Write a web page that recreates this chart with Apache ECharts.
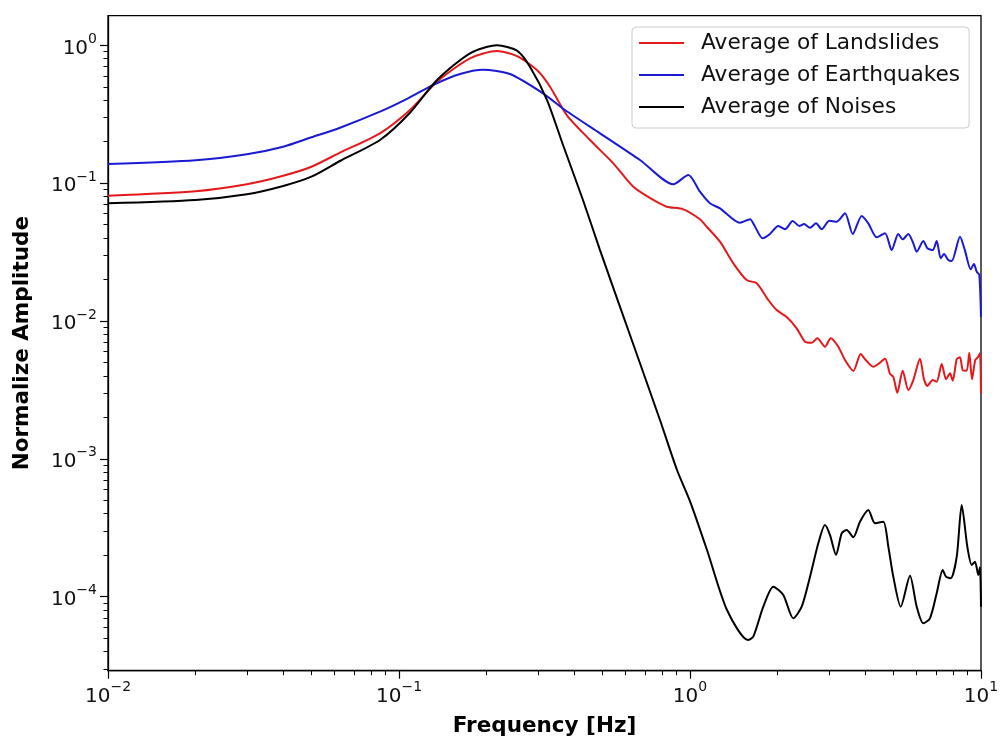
<!DOCTYPE html>
<html>
<head>
<meta charset="utf-8">
<script src="https://cdn.jsdelivr.net/npm/echarts@6/dist/echarts.min.js"></script>
<style>
  html, body { margin: 0; padding: 0; background: #ffffff; }
  #chart { width: 1002px; height: 736px; }
</style>
</head>
<body>
<div id="chart"></div>
<script>
// Average normalized spectra (frequency in Hz, amplitude normalized)
const freqLandslides = [0.01, 0.02, 0.03, 0.04, 0.05, 0.0627, 0.086, 0.1091, 0.1351, 0.1754,
  0.2172, 0.2543, 0.2979, 0.3304, 0.3770, 0.4533, 0.5451, 0.6386, 0.748, 0.8317,
  0.9484, 1.082, 1.141, 1.268, 1.409, 1.566, 1.695, 1.858, 1.986, 2.149,
  2.326, 2.485, 2.620, 2.739, 2.910, 3.045, 3.233, 3.409, 3.641, 3.860,
  3.994, 4.265, 4.437, 4.679, 4.868, 4.996, 5.157, 5.381, 5.626, 5.853,
  6.170, 6.369, 6.539, 6.823, 7.043, 7.328, 7.583, 7.827, 7.995, 8.253,
  8.469, 8.652, 8.931, 9.116, 9.314, 9.559, 9.788, 9.92, 10];
const ampLandslides = [0.0811, 0.0873, 0.0981, 0.1132, 0.1316, 0.1664, 0.2299, 0.3394, 0.5445, 0.805,
  0.909, 0.836, 0.662, 0.5008, 0.312, 0.2056, 0.1393, 0.0942, 0.0755, 0.0675,
  0.0646, 0.0547, 0.0483, 0.0376, 0.0262, 0.0198, 0.0188, 0.0142, 0.0120, 0.0107,
  0.00885, 0.00708, 0.00696, 0.00749, 0.00651, 0.00749, 0.00651, 0.00521, 0.00434, 0.00576,
  0.00528, 0.00466, 0.00488, 0.00533, 0.00413, 0.00394, 0.00302, 0.00436, 0.00316, 0.00373,
  0.00533, 0.00378, 0.00338, 0.00373, 0.00363, 0.00488, 0.00378, 0.00417, 0.00369, 0.00528,
  0.00545, 0.00441, 0.00436, 0.00589, 0.00378, 0.00521, 0.00551, 0.00583, 0.00299];

const freqEarthquakes = [0.01, 0.02, 0.03, 0.04, 0.05, 0.0627, 0.086, 0.1074, 0.1308, 0.1621,
  0.1944, 0.2406, 0.3125, 0.3719, 0.4906, 0.6733, 0.8762, 0.9868, 1.082, 1.171,
  1.268, 1.485, 1.608, 1.673, 1.777, 1.883, 2.011, 2.121, 2.254, 2.375,
  2.465, 2.585, 2.710, 2.836, 3.011, 3.193, 3.409, 3.624, 3.890, 4.100,
  4.381, 4.679, 4.933, 5.197, 5.381, 5.626, 5.853, 6.012, 6.335, 6.539,
  6.823, 7.043, 7.270, 7.463, 7.720, 7.931, 8.469, 8.810, 9.218, 9.461,
  9.665, 9.865, 10];
const ampEarthquakes = [0.1377, 0.1465, 0.1620, 0.1838, 0.2151, 0.2525, 0.330, 0.4125, 0.515, 0.619,
  0.665, 0.619, 0.4485, 0.3394, 0.2299, 0.1472, 0.0981, 0.1146, 0.0867, 0.0714,
  0.0657, 0.0516, 0.0547, 0.0483, 0.0398, 0.0428, 0.0489, 0.0463, 0.0531, 0.0489,
  0.0505, 0.0475, 0.0511, 0.0463, 0.0534, 0.0525, 0.0604, 0.0428, 0.0578, 0.0511,
  0.0405, 0.0433, 0.0327, 0.0428, 0.0391, 0.0428, 0.0366, 0.0318, 0.0380, 0.0337,
  0.0327, 0.0380, 0.0285, 0.0306, 0.0277, 0.0272, 0.0409, 0.0324, 0.0237, 0.0259,
  0.0228, 0.0216, 0.0107];

const freqNoises = [0.01, 0.02, 0.03, 0.04, 0.05, 0.0627, 0.086, 0.1091, 0.1351, 0.1754,
  0.2172, 0.2543, 0.2818, 0.3226, 0.3662, 0.4287, 0.4906, 0.622, 0.7886, 0.9023,
  1.0055, 1.144, 1.340, 1.582, 1.650, 1.786, 1.933, 2.092, 2.265, 2.420,
  2.585, 2.760, 2.910, 3.028, 3.176, 3.321, 3.455, 3.641, 3.838, 4.100,
  4.322, 4.617, 4.803, 4.996, 5.298, 5.702, 6.012, 6.335, 6.678, 7.043,
  7.386, 7.583, 7.870, 8.253, 8.584, 8.974, 9.291, 9.537, 9.788, 9.92,
  10];
const ampNoises = [0.0714, 0.0755, 0.0830, 0.0954, 0.1114, 0.1448, 0.2056, 0.3244, 0.560, 0.875,
  1.0, 0.914, 0.6995, 0.401, 0.1891, 0.0755, 0.0327, 0.00791, 0.001913, 0.00083,
  0.000478, 0.000218, 8.0e-5, 4.85e-5, 5.13e-5, 8.46e-5, 1.182e-4, 1.029e-4, 6.97e-5, 8.46e-5,
  1.397e-4, 2.44e-4, 3.31e-4, 2.80e-4, 2.01e-4, 2.88e-4, 3.05e-4, 2.70e-4, 3.50e-4, 4.25e-4,
  3.41e-4, 3.50e-4, 2.31e-4, 1.397e-4, 8.46e-5, 1.42e-4, 8.46e-5, 6.41e-5, 6.97e-5, 1.058e-4,
  1.562e-4, 1.397e-4, 1.36e-4, 1.951e-4, 4.63e-4, 2.31e-4, 1.70e-4, 1.795e-4, 1.437e-4, 1.634e-4,
  8.46e-5];

const seriesNames = ['Average of Landslides', 'Average of Earthquakes', 'Average of Noises'];
const seriesColors = ['#e3191c', '#1a1ad2', '#000000'];

// Axis ranges and decade ticks
const xRange = [0.01, 10];
const yRange = [2.904e-5, 1.64];
const xMajorTicks = [0.01, 0.1, 1, 10];
const yMajorTicks = [1e-4, 1e-3, 1e-2, 1e-1, 1];

function minorTicks(eLo, eHi) {
  const out = [];
  for (let e = eLo; e < eHi; e++) {
    for (let m = 2; m <= 9; m++) out.push(m * Math.pow(10, e));
  }
  return out;
}
const xMinorTicks = minorTicks(-2, 1);
const yMinorTicks = minorTicks(-5, 1);

function pairs(xs, ys) {
  const n = Math.min(xs.length, ys.length);
  const out = [];
  for (let i = 0; i < n; i++) out.push([xs[i], ys[i]]);
  return out;
}

const FONT = 'DejaVu Sans';
const powerRich = {
  b: { fontFamily: FONT, fontSize: 20, lineHeight: 26, verticalAlign: 'bottom', color: '#111' },
  s: { fontFamily: FONT, fontSize: 14, lineHeight: 14, verticalAlign: 'top', color: '#111' }
};
function powerLabel(v) {
  const e = Math.round(Math.log10(v));
  const txt = e < 0 ? '\u2212' + (-e) : String(e);
  return '{b|10}{s|' + txt + '}';
}

const chart = echarts.init(document.getElementById('chart'), null, { renderer: 'canvas' });

const majorTick = { show: true, inside: false, length: 8, lineStyle: { color: '#000', width: 1.2 } };
const minorTick = { show: true, inside: false, length: 4.5, lineStyle: { color: '#000', width: 1 } };

chart.setOption({
  animation: false,
  backgroundColor: '#ffffff',
  grid: {
    left: 108, right: 21, top: 15.7, bottom: 65.3,
    show: true, borderColor: '#000', borderWidth: 1.3,
    containLabel: false, outerBoundsMode: 'none'
  },
  legend: {
    data: seriesNames,
    orient: 'vertical',
    left: 632, top: 27,
    padding: [5, 9, 10, 7],
    itemGap: 10,
    icon: 'rect',
    itemWidth: 45, itemHeight: 2,
    backgroundColor: 'rgba(255,255,255,0.8)',
    borderColor: '#cccccc', borderWidth: 1, borderRadius: 4,
    textStyle: { fontFamily: FONT, fontSize: 21.7, lineHeight: 22, color: '#111', padding: [0, 0, 0, 12] }
  },
  xAxis: [
    {
      type: 'log', logBase: 10, min: xRange[0], max: xRange[1], position: 'bottom',
      name: 'Frequency [Hz]', nameLocation: 'middle', nameGap: 45,
      nameTextStyle: { fontFamily: FONT, fontWeight: 'bold', fontSize: 21.5, color: '#000' },
      axisLine: { show: true, lineStyle: { color: '#000', width: 1.3 } },
      axisTick: Object.assign({ customValues: xMajorTicks }, majorTick),
      axisLabel: { customValues: xMajorTicks, formatter: powerLabel, margin: 10, rich: powerRich },
      splitLine: { show: false }, minorTick: { show: false }
    },
    {
      type: 'log', logBase: 10, min: xRange[0], max: xRange[1], position: 'bottom',
      axisLine: { show: false },
      axisTick: Object.assign({ customValues: xMinorTicks }, minorTick),
      axisLabel: { show: false },
      splitLine: { show: false }
    }
  ],
  yAxis: [
    {
      type: 'log', logBase: 10, min: yRange[0], max: yRange[1], position: 'left',
      name: 'Normalize Amplitude', nameLocation: 'middle', nameGap: 75,
      nameTextStyle: { fontFamily: FONT, fontWeight: 'bold', fontSize: 21.5, color: '#000' },
      axisLine: { show: true, lineStyle: { color: '#000', width: 1.3 } },
      axisTick: Object.assign({ customValues: yMajorTicks }, majorTick),
      axisLabel: { customValues: yMajorTicks, formatter: powerLabel, margin: 11, rich: powerRich },
      splitLine: { show: false }, minorTick: { show: false }
    },
    {
      type: 'log', logBase: 10, min: yRange[0], max: yRange[1], position: 'left',
      axisLine: { show: false },
      axisTick: Object.assign({ customValues: yMinorTicks }, minorTick),
      axisLabel: { show: false },
      splitLine: { show: false }
    }
  ],
  series: [
    [freqLandslides, ampLandslides],
    [freqEarthquakes, ampEarthquakes],
    [freqNoises, ampNoises]
  ].map(function (d, i) {
    return {
      name: seriesNames[i],
      type: 'line',
      xAxisIndex: 0, yAxisIndex: 0,
      data: pairs(d[0], d[1]),
      symbol: 'none', showSymbol: false,
      smooth: 0.25,
      lineStyle: { color: seriesColors[i], width: 2 },
      itemStyle: { color: seriesColors[i] },
      z: 2 + i
    };
  })
});
</script>
</body>
</html>
